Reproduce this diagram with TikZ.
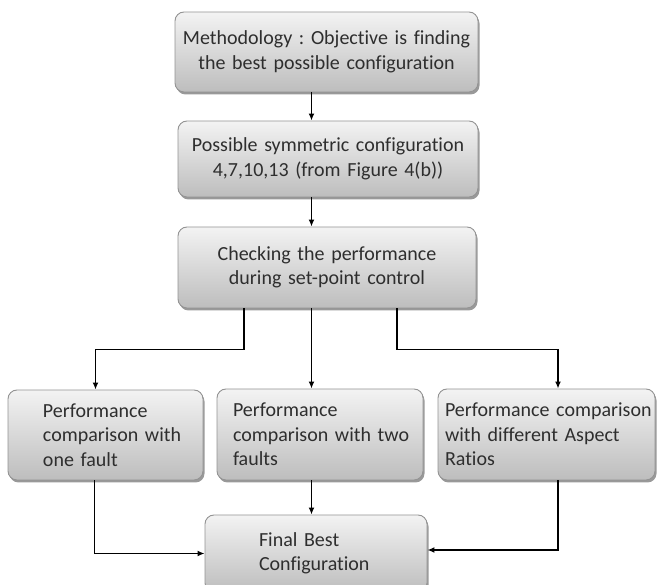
\documentclass[tikz,border=0pt]{standalone}
\usepackage{fontspec}
\setmainfont{Carlito}[RawFeature={-liga;-clig;-dlig;-calt}]
\frenchspacing
\usepackage{tikz}
\usetikzlibrary{arrows.meta,
                shadows
                }

\definecolor{boxedge}{HTML}{939393}
\definecolor{boxtop}{HTML}{F3F3F3}
\definecolor{boxbottom}{HTML}{BDBDBD}
\definecolor{boxtext}{HTML}{2E2E2E}

\tikzset{
    stage/.style={draw=boxedge, line width=0.9pt, rounded corners=9pt,
        top color=boxtop, bottom color=boxbottom,
        drop shadow={shadow xshift=1.5pt, shadow yshift=-2.5pt,
        fill=black, opacity=0.4},
        text=boxtext, font=\fontsize{20}{24.5}\selectfont,
        inner xsep=0pt, inner ysep=0pt, align=center},
    inset/.style={align=left, execute at begin node={\leftskip=#1\relax}},
    flow/.style={line width=1.5pt, -{Latex[length=7pt, width=6pt]}}
}

\begin{document}
\begin{tikzpicture}[x=1pt, y=-1pt]
    \useasboundingbox (0,0) rectangle (657,585);
    \coordinate (spine) at (311.5,0);

    \node[stage, text width=303pt, minimum height=80pt] (goal) at (326.5,52)
        {Methodology : Objective is finding\\the best possible configuration};
    \node[stage, text width=300pt, minimum height=76pt] (sym) at (328,159)
        {Possible symmetric configuration\\4,7,10,13 (from Figure 4(b))};
    \node[stage, text width=298pt, minimum height=81pt] (check) at (327,267.5)
        {Checking the performance\\during set-point control};

    \node[stage, inset=35pt, text width=195pt, minimum height=90pt] (one)
        at (105.5,435) {Performance\\comparison with\\one fault};
    \node[stage, inset=16pt, text width=206pt, minimum height=91pt] (two)
        at (320,434.5) {Performance\\comparison with two\\faults};
    \node[stage, inset=7pt, text width=217pt, minimum height=91pt] (ratio)
        at (546.5,434.5) {Performance comparison\\with different Aspect\\Ratios};

    \node[stage, inset=54pt, text width=222pt, minimum height=77pt] (best)
        at (316,553.5) {Final Best\\Configuration};

    \draw[flow] (goal.south -| spine) -- (sym.north -| spine);
    \draw[flow] (sym.south -| spine) -- (check.north -| spine);
    \draw[flow] ([xshift=-83pt]check.south) -- ++(0,41)
        -| ([xshift=-10pt]one.north);
    \draw[flow] (check.south -| spine) -- (two.north -| spine);
    \draw[flow] ([xshift=70pt]check.south) -- ++(0,41)
        -| ([xshift=11.5pt]ratio.north);

    \draw[flow] ([xshift=-11pt]one.south) |- (best.west);
    \draw[flow] (two.south -| spine) -- (best.north -| spine);
    \draw[flow] ([xshift=11.5pt]ratio.south) |- ([yshift=3.5pt]best.east);
\end{tikzpicture}
\end{document}
